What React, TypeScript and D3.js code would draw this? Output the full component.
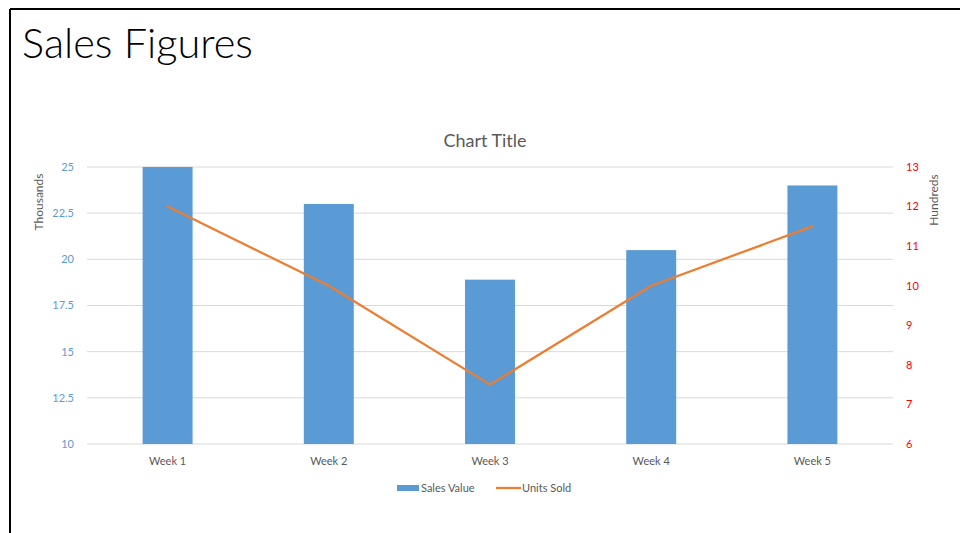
import React from "react";
import * as d3 from "d3";

const categories = ["Week 1", "Week 2", "Week 3", "Week 4", "Week 5"];
const salesValue = [25, 23, 18.9, 20.5, 24];
const unitsSold = [12, 10, 7.5, 10, 11.5];
const leftTicks = [10, 12.5, 15, 17.5, 20, 22.5, 25];
const rightTicks = [6, 7, 8, 9, 10, 11, 12, 13];

const W = 960;
const H = 533;
const FONT = "Lato, 'Open Sans', sans-serif";

export default function App() {
  const plotL = 87, plotR = 893, plotT = 167, plotB = 444;
  const x = d3.scaleBand<string>().domain(categories).range([plotL, plotR]).paddingInner(0.69).paddingOuter(0.345);
  const xc = d3.scaleBand<string>().domain(categories).range([plotL, plotR]);
  const yL = d3.scaleLinear().domain([10, 25]).range([plotB, plotT]);
  const yR = d3.scaleLinear().domain([6, 13]).range([plotB, plotT]);
  const line = d3.line<number>()
    .x((_, i) => (xc(categories[i]) as number) + xc.bandwidth() / 2)
    .y((d) => yR(d));

  return (
    <svg width={W} height={H} style={{ position: "absolute", left: 0, top: 0, background: "#fff" }}>
      <rect x={0} y={0} width={W} height={H} fill="#fff" />
      <line x1={10} y1={9} x2={W} y2={9} stroke="#000" strokeWidth={2} />
      <line x1={10} y1={9} x2={10} y2={H} stroke="#000" strokeWidth={2} />
      <text x={22} y={58} fontFamily={FONT} fontWeight={300} fontSize={41.5} fill="#000">Sales Figures</text>
      <text x={485} y={147} textAnchor="middle" fontFamily={FONT} fontSize={18} fill="#595959">Chart Title</text>
      {leftTicks.map((t) => (
        <g key={"g" + t}>
          <line x1={plotL} x2={plotR} y1={yL(t)} y2={yL(t)} stroke="#D9D9D9" strokeWidth={1} />
          <text x={74} y={yL(t)} dy="0.35em" textAnchor="end" fontFamily={FONT} fontSize={11} fill="#5B9BD5">{t}</text>
        </g>
      ))}
      {rightTicks.map((t) => (
        <text key={"r" + t} x={906} y={yR(t)} dy="0.35em" textAnchor="start" fontFamily={FONT} fontSize={11} fill="#FF0000">{t}</text>
      ))}
      <text transform={`translate(43,202) rotate(-90)`} textAnchor="middle" fontFamily={FONT} fontSize={12} fill="#595959">Thousands</text>
      <text transform={`translate(938,200) rotate(-90)`} textAnchor="middle" fontFamily={FONT} fontSize={12} fill="#595959">Hundreds</text>
      {categories.map((c, i) => (
        <rect key={c} x={x(c)} y={yL(salesValue[i])} width={x.bandwidth()} height={plotB - yL(salesValue[i])} fill="#5B9BD5" />
      ))}
      <path d={line(unitsSold) || ""} fill="none" stroke="#ED7D31" strokeWidth={2.25} strokeLinejoin="round" strokeLinecap="round" />
      {categories.map((c) => (
        <text key={"x" + c} x={(xc(c) as number) + xc.bandwidth() / 2} y={465} textAnchor="middle" fontFamily={FONT} fontSize={11} fill="#595959">{c}</text>
      ))}
      <rect x={397} y={485} width={22} height={6} fill="#5B9BD5" />
      <text x={421} y={492} fontFamily={FONT} fontSize={11} fill="#595959">Sales Value</text>
      <line x1={496} x2={521} y1={488} y2={488} stroke="#ED7D31" strokeWidth={2.25} />
      <text x={522} y={492} fontFamily={FONT} fontSize={11} fill="#595959">Units Sold</text>
    </svg>
  );
}
